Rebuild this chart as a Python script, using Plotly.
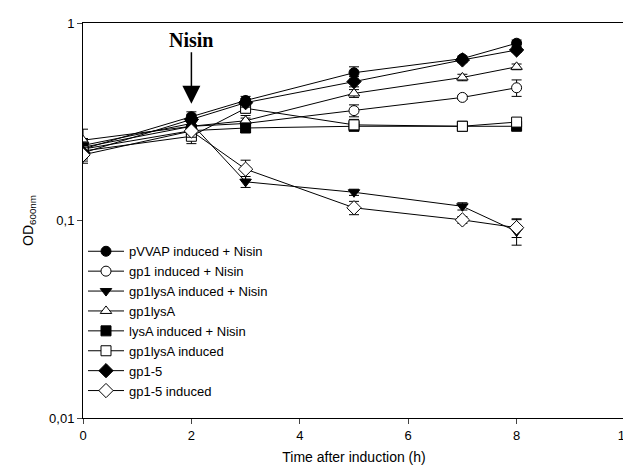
import plotly.graph_objects as go
import math

time_h = [0, 2, 3, 5, 7, 8]

series_names = [
    "pVVAP induced + Nisin",
    "gp1 induced + Nisin",
    "gp1lysA induced + Nisin",
    "gp1lysA",
    "lysA induced + Nisin",
    "gp1lysA induced",
    "gp1-5",
    "gp1-5 induced",
]

pvvap_nisin = [0.23, 0.335, 0.405, 0.56, 0.66, 0.79]
gp1_nisin = [0.235, 0.30, 0.31, 0.36, 0.42, 0.47]
gp1lysA_nisin = [0.24, 0.31, 0.157, 0.139, 0.118, 0.088]
gp1lysA = [0.255, 0.30, 0.32, 0.44, 0.53, 0.60]
lysA_nisin = [0.23, 0.285, 0.294, 0.30, 0.30, 0.30]
gp1lysA_induced = [0.225, 0.267, 0.37, 0.305, 0.30, 0.315]
gp1_5 = [0.22, 0.325, 0.395, 0.505, 0.65, 0.73]
gp1_5_induced = [0.215, 0.284, 0.182, 0.116, 0.1007, 0.092]

err_pvvap_nisin = [0.02, 0.02, 0.02, 0.04, 0.02, 0.03]
err_gp1_nisin = [0.02, 0.02, 0.02, 0.025, 0.01, 0.045]
err_gp1lysA_nisin = [0.02, 0.02, 0.01, 0.005, 0.005, 0.013]
err_gp1lysA = [0.035, 0.02, 0.02, 0.02, 0.02, 0.02]
err_lysA_nisin = [0.02, 0.02, 0.015, 0.015, 0.01, 0.01]
err_gp1lysA_induced = [0.02, 0.022, 0.02, 0.02, 0.01, 0.015]
err_gp1_5 = [0.02, 0.02, 0.02, 0.03, 0.02, 0.02]
err_gp1_5_induced = [0.02, 0.02, 0.02, 0.009, 0.004, 0.01]

values = [pvvap_nisin, gp1_nisin, gp1lysA_nisin, gp1lysA,
          lysA_nisin, gp1lysA_induced, gp1_5, gp1_5_induced]
errors = [err_pvvap_nisin, err_gp1_nisin, err_gp1lysA_nisin, err_gp1lysA,
          err_lysA_nisin, err_gp1lysA_induced, err_gp1_5, err_gp1_5_induced]
symbols = ["circle", "circle", "triangle-down", "triangle-up",
           "square", "square", "diamond", "diamond"]
fills = ["black", "white", "black", "white", "black", "white", "black", "white"]

y_tickvals = [0.01, 0.1, 1]
y_ticktext = ["0,01", "0,1", "1"]

FONT = "Arial, Liberation Sans, sans-serif"

fig = go.Figure()
for name, vals, errs, sym, fc in zip(series_names, values, errors, symbols, fills):
    fig.add_trace(go.Scatter(
        x=time_h, y=vals, name=name, mode="lines+markers",
        line=dict(color="black", width=1),
        marker=dict(symbol=sym, size=11 if "diamond" in sym else 10, color=fc,
                    line=dict(color="black", width=1)),
        error_y=dict(type="data", array=errs, visible=True,
                     color="black", thickness=1, width=5),
    ))

fig.add_annotation(
    x=2, y=math.log10(0.39), xref="x", yref="y",
    text="<b>Nisin</b>", showarrow=True, arrowhead=2, arrowsize=2.4,
    arrowwidth=1.5, arrowcolor="black", ax=0, ay=-64,
    font=dict(family="Times New Roman, Liberation Serif, serif", size=20, color="black"),
)

fig.update_layout(
    width=631, height=471,
    margin=dict(l=75, r=7, t=15, b=61),
    plot_bgcolor="white", paper_bgcolor="white",
    font=dict(family=FONT, size=13, color="black"),
    showlegend=True,
    legend=dict(x=0.0, y=0.46, xanchor="left", yanchor="top",
                bgcolor="rgba(0,0,0,0)", font=dict(size=13, family=FONT),
                tracegroupgap=0, itemwidth=36),
    xaxis=dict(range=[0, 10], dtick=2, tick0=0, ticks="outside", ticklen=5,
               showline=True, linecolor="black", linewidth=1, mirror=True,
               showgrid=False, zeroline=False, ticklabeloverflow="allow",
               tickfont=dict(size=13),
               title=dict(text="Time after induction (h)", font=dict(size=14), standoff=10)),
    yaxis=dict(type="log", range=[-2, 0], tickvals=y_tickvals, ticktext=y_ticktext,
               ticks="outside", ticklen=5, showline=True, linecolor="black",
               linewidth=1, mirror=True, showgrid=False, zeroline=False,
               tickfont=dict(size=13),
               title=dict(text="OD<sub>600nm</sub>", font=dict(size=14), standoff=12)),
)

fig.write_html("out.html")
